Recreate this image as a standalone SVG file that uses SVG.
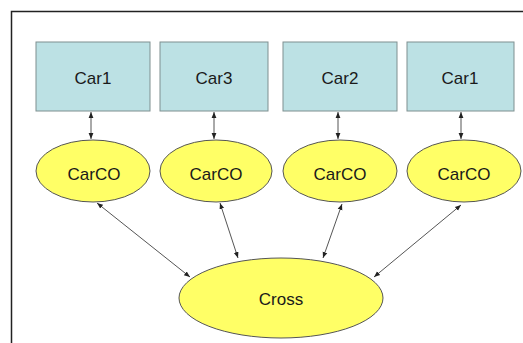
<svg xmlns="http://www.w3.org/2000/svg" width="523" height="343" viewBox="0 0 523 343">
  <style>
    .car { fill: #bce1e4; stroke: #7f8f90; stroke-width: 1; }
    .co { fill: #ffff66; stroke: #555; stroke-width: 1; }
    .lbl { font-family: "Liberation Sans", Arial, sans-serif; font-size: 17px; fill: #1a1a1a; text-anchor: middle; dominant-baseline: central; }
    .link { stroke: #555; stroke-width: 1; fill: none; marker-start: url(#head); marker-end: url(#head); }
    .frame { stroke: #222; stroke-width: 1.5; fill: none; }
  </style>
  <defs>
    <marker id="head" viewBox="0 0 10 10" refX="10" refY="5" markerWidth="6" markerHeight="6" orient="auto-start-reverse" markerUnits="userSpaceOnUse">
      <path d="M0,1 L10,5 L0,9 z" fill="#222"/>
    </marker>
  </defs>
  <rect width="523" height="343" fill="#fff"/>
  <path class="frame" d="M11.5,343 V11.5 H523"/>

  <g id="links">
    <line class="link" x1="91" y1="112" x2="91" y2="139"/>
    <line class="link" x1="214" y1="112" x2="214" y2="139"/>
    <line class="link" x1="338" y1="112" x2="338" y2="139"/>
    <line class="link" x1="461" y1="112" x2="461" y2="139"/>
    <line class="link" x1="97" y1="203" x2="190" y2="277"/>
    <line class="link" x1="220" y1="203" x2="238" y2="258"/>
    <line class="link" x1="342" y1="204" x2="323" y2="258"/>
    <line class="link" x1="461" y1="205" x2="374" y2="277"/>
  </g>

  <g id="car1a"><rect class="car" x="36" y="42" width="114" height="69"/><text class="lbl" x="93" y="78">Car1</text></g>
  <g id="car3"><rect class="car" x="160" y="42" width="108" height="69"/><text class="lbl" x="214" y="78">Car3</text></g>
  <g id="car2"><rect class="car" x="283" y="42" width="114" height="69"/><text class="lbl" x="340" y="78">Car2</text></g>
  <g id="car1b"><rect class="car" x="407" y="42" width="107" height="69"/><text class="lbl" x="460" y="78">Car1</text></g>

  <g id="carco1"><ellipse class="co" cx="93" cy="171" rx="57" ry="31"/><text class="lbl" x="94" y="174">CarCO</text></g>
  <g id="carco2"><ellipse class="co" cx="216" cy="171" rx="56" ry="31"/><text class="lbl" x="216" y="174">CarCO</text></g>
  <g id="carco3"><ellipse class="co" cx="340" cy="171" rx="57" ry="31"/><text class="lbl" x="340" y="174">CarCO</text></g>
  <g id="carco4"><ellipse class="co" cx="464" cy="171" rx="57" ry="31"/><text class="lbl" x="464" y="174">CarCO</text></g>

  <g id="cross"><ellipse class="co" cx="281" cy="298" rx="102" ry="40"/><text class="lbl" x="281" y="299">Cross</text></g>
</svg>
